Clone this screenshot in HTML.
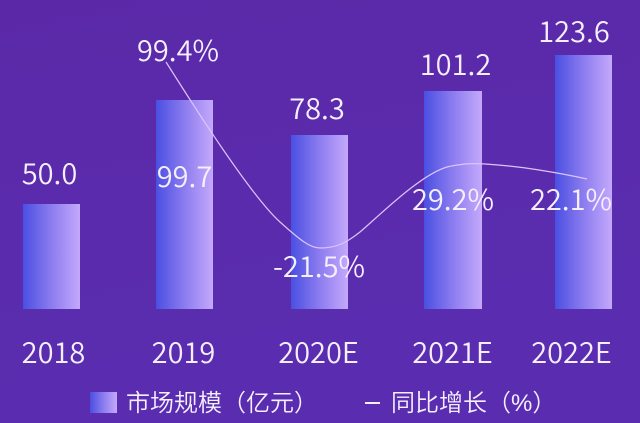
<!DOCTYPE html>
<html><head><meta charset="utf-8"><style>
html,body{margin:0;padding:0;width:640px;height:423px;overflow:hidden;background:#5b2aa9;}
svg{display:block;}
text{font-family:"Liberation Sans","Noto Sans CJK SC",sans-serif;fill:#f5effd;}
.n{font-family:"Noto Sans CJK SC","Liberation Sans",sans-serif;font-size:29px;font-weight:350;text-anchor:middle;}
.l{font-family:"Liberation Sans","Noto Sans CJK SC",sans-serif;font-size:24px;font-weight:350;}
</style></head><body>
<svg width="640" height="423" viewBox="0 0 640 423" xmlns="http://www.w3.org/2000/svg">
<defs>
<linearGradient id="bg" x1="0" y1="0" x2="0.3" y2="1">
<stop offset="0" stop-color="#5b29a8"/>
<stop offset="1" stop-color="#5a2db0"/>
</linearGradient>
<linearGradient id="bar" x1="0" y1="0" x2="1" y2="0">
<stop offset="0" stop-color="#4a4fe2"/>
<stop offset="0.5" stop-color="#8c7cef"/>
<stop offset="1" stop-color="#c4a9fb"/>
</linearGradient>
</defs>
<rect width="640" height="423" fill="url(#bg)"/>
<rect x="23" y="204" width="57" height="105" fill="url(#bar)"/>
<rect x="156" y="100" width="57" height="209" fill="url(#bar)"/>
<rect x="291" y="135" width="57" height="174" fill="url(#bar)"/>
<rect x="424" y="91" width="58" height="218" fill="url(#bar)"/>
<rect x="555" y="55" width="57" height="254" fill="url(#bar)"/>
<path d="M166,62 C190,100 250,195 280,222 C300,240 310,248 320,248 C335,248 345,244 360,232 C380,215 420,175 447,167 C460,164 470,163 485,164 C520,166 560,173 587,179" fill="none" stroke="#dcc4fa" stroke-width="1.2"/>
<text class="n" x="49.5" y="184">50.0</text>
<text class="n" x="178" y="61">99.4%</text>
<text class="n" x="184.5" y="187">99.7</text>
<text class="n" x="317" y="119">78.3</text>
<text class="n" x="455.5" y="75">101.2</text>
<text class="n" x="574" y="42">123.6</text>
<text class="n" x="453" y="210">29.2%</text>
<text class="n" x="571" y="210">22.1%</text>
<text class="n" x="319" y="277">-21.5%</text>
<text class="n" x="53.5" y="363">2018</text>
<text class="n" x="183.5" y="363">2019</text>
<text class="n" x="318.5" y="363">2020E</text>
<text class="n" x="452.5" y="363">2021E</text>
<text class="n" x="571.5" y="363">2022E</text>
<rect x="90" y="392" width="27" height="21" fill="url(#bar)"/>
<text class="l" x="126" y="411">市场规模（亿元）</text>
<rect x="365" y="402" width="15" height="2" fill="#f5effd"/>
<text class="l" x="391" y="411">同比增长（%）</text>
</svg>
</body></html>
